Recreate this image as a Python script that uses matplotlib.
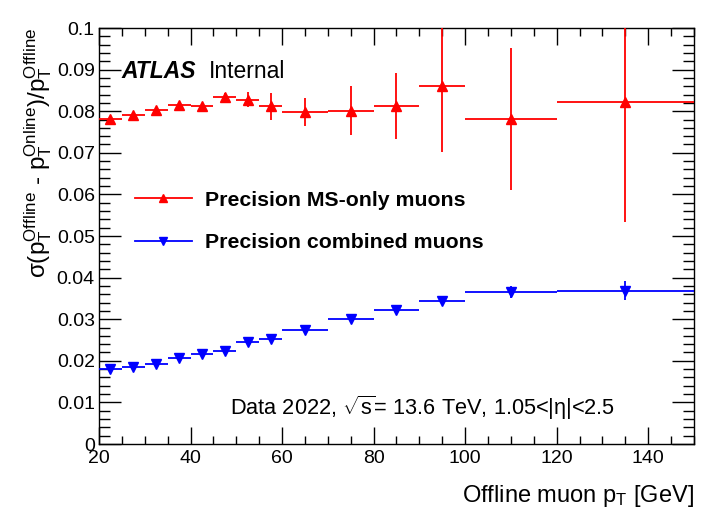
import numpy as np
import matplotlib
matplotlib.use("Agg")
import matplotlib.pyplot as plt
from matplotlib.lines import Line2D
from matplotlib.ticker import MultipleLocator

plt.rcParams['font.family'] = ['Liberation Sans', 'DejaVu Sans']
plt.rcParams['mathtext.fontset'] = 'custom'
plt.rcParams['mathtext.rm'] = 'Liberation Sans'
plt.rcParams['mathtext.it'] = 'Liberation Sans:italic'
plt.rcParams['mathtext.bf'] = 'Liberation Sans:bold'
plt.rcParams['mathtext.default'] = 'regular'

# pT bin edges [GeV]
bin_edges = [20, 25, 30, 35, 40, 45, 50, 55, 60, 70, 80, 90, 100, 120, 150]

# Resolution for MS-only muons
ms_res = [0.0781, 0.0792, 0.0803, 0.0815, 0.0813, 0.0835, 0.0828, 0.0812,
          0.0798, 0.0801, 0.0813, 0.0861, 0.0781, 0.0823]
ms_err = [0.0006, 0.0005, 0.0005, 0.0005, 0.0007, 0.0008, 0.0019, 0.0033,
          0.0034, 0.0059, 0.0080, 0.0160, 0.0170, 0.0290]

# Resolution for combined muons
cb_res = [0.0180, 0.0184, 0.0192, 0.0206, 0.0216, 0.0223, 0.0245, 0.0253,
          0.0274, 0.0300, 0.0323, 0.0344, 0.0365, 0.0369]
cb_err = [0.0002, 0.0002, 0.0002, 0.0002, 0.0002, 0.0002, 0.0003, 0.0003,
          0.0003, 0.0004, 0.0005, 0.0007, 0.0014, 0.0022]

y_tick_labels = ['0', '0.01', '0.02', '0.03', '0.04', '0.05', '0.06',
                 '0.07', '0.08', '0.09', '0.1']

edges = np.array(bin_edges, dtype=float)
centers = 0.5 * (edges[:-1] + edges[1:])
half_w = 0.5 * (edges[1:] - edges[:-1])

fig = plt.figure(figsize=(7.04, 5.19), dpi=100)
ax = fig.add_axes([0.1406, 0.1445, 0.8452, 0.8015])

ax.errorbar(centers, ms_res, xerr=half_w, yerr=ms_err, fmt='^', color='#ff0000',
            ms=7.5, elinewidth=1.3, capsize=0, zorder=3)
ax.errorbar(centers, cb_res, xerr=half_w, yerr=cb_err, fmt='v', color='#0000ff',
            ms=7.5, elinewidth=1.3, capsize=0, zorder=3)

ax.set_xlim(20, 150)
ax.set_ylim(0, 0.1)
ax.xaxis.set_major_locator(MultipleLocator(20))
ax.xaxis.set_minor_locator(MultipleLocator(5))
ax.set_yticks(np.linspace(0, 0.1, len(y_tick_labels)))
ax.set_yticklabels(y_tick_labels)
ax.yaxis.set_minor_locator(MultipleLocator(0.002))
ax.tick_params(which='both', direction='in', top=True, right=True,
               labelsize=14, width=1.0)
ax.tick_params(axis='y', which='major', length=16, pad=3)
ax.tick_params(axis='y', which='minor', length=8)
ax.tick_params(axis='x', which='major', length=12, pad=4)
ax.tick_params(axis='x', which='minor', length=6)
for s in ax.spines.values():
    s.set_linewidth(1.0)

ax.set_xlabel(r'Offline muon p$_{T}$ [GeV]', fontsize=17, loc='right', labelpad=12)
ax.set_ylabel(r'$\sigma(p_{T}^{Offline}$ - $p_{T}^{Online})/p_{T}^{Offline}$',
              fontsize=17.5, loc='top', labelpad=2)

ax.text(0.038, 0.895, 'ATLAS', transform=ax.transAxes, fontsize=16.5,
        fontweight='bold', fontstyle='italic', va='center')
ax.text(0.185, 0.895, 'Internal', transform=ax.transAxes, fontsize=16.5, va='center')

ax.text(0.22, 0.088, r'Data 2022, $\sqrt{s}$= 13.6 TeV, 1.05<|$\eta$|<2.5',
        transform=ax.transAxes, fontsize=15.7, va='center')

handles = [
    Line2D([], [], color='#ff0000', marker='^', ms=6, lw=1.3),
    Line2D([], [], color='#0000ff', marker='v', ms=6, lw=1.3),
]
leg = ax.legend(handles, ['Precision MS-only muons', 'Precision combined muons'],
                loc='upper left', bbox_to_anchor=(0.028, 0.655), frameon=False,
                prop={'size': 15.3, 'weight': 'bold'}, handlelength=2.7,
                handletextpad=0.6, labelspacing=1.1)

fig.savefig('out.png', dpi=100)
